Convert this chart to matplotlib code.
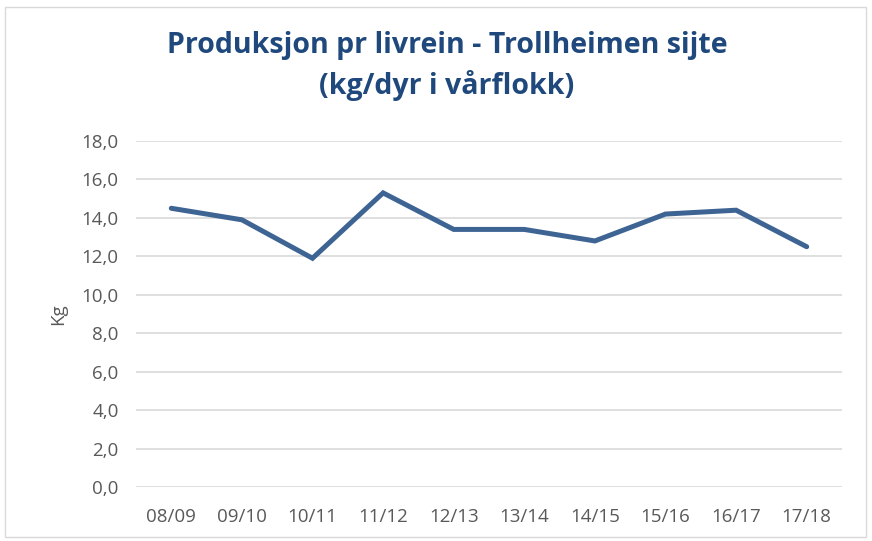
import matplotlib.pyplot as plt
from matplotlib.patches import Rectangle

seasons = ['08/09', '09/10', '10/11', '11/12', '12/13',
           '13/14', '14/15', '15/16', '16/17', '17/18']
kg_per_animal = [14.5, 13.9, 11.9, 15.3, 13.4, 13.4, 12.8, 14.2, 14.4, 12.5]
y_ticks = [0, 2, 4, 6, 8, 10, 12, 14, 16, 18]

plt.rcParams['font.family'] = ['Open Sans', 'DejaVu Sans']

fig = plt.figure(figsize=(8.72, 5.41), dpi=100)
ax = fig.add_axes([136 / 872, 1 - 487 / 541, (842 - 136) / 872, (487 - 141) / 541])

x = range(len(seasons))
ax.plot(x, kg_per_animal, color='#3E6494', linewidth=3.6,
        solid_joinstyle='miter', solid_capstyle='round', zorder=3)

ax.set_xlim(-0.5, len(seasons) - 0.5)
ax.set_ylim(0, 18)
ax.set_yticks(y_ticks)
ax.set_yticklabels([f'{v:.1f}'.replace('.', ',') for v in y_ticks])
ax.set_xticks(list(x))
ax.set_xticklabels(seasons)

ax.grid(axis='y', color='#D9D9D9', linewidth=1.2)
ax.set_axisbelow(True)
for s in ax.spines.values():
    s.set_visible(False)
ax.tick_params(length=0, labelsize=13.5, labelcolor='#595959')
ax.tick_params(axis='y', pad=12.5)
ax.tick_params(axis='x', pad=15)

ax.set_ylabel('Kg', fontsize=13.5, color='#595959')
ax.yaxis.set_label_coords(-0.097, 0.5)

# title sits a little right of the figure centre in the original
title_x = 447 / 872
fig.text(title_x, 1 - 53 / 541, 'Produksjon pr livrein - Trollheimen sijte',
         ha='center', va='baseline', fontsize=20.5, fontweight='bold', color='#1F497D')
fig.text(title_x, 1 - 94 / 541, '(kg/dyr i vårflokk)',
         ha='center', va='baseline', fontsize=20.5, fontweight='bold', color='#1F497D')

fig.patches.append(Rectangle((5 / 872, 4 / 541), 861 / 872, 530 / 541,
                             transform=fig.transFigure, fill=False,
                             edgecolor='#D9D9D9', linewidth=1))

fig.savefig('out.png', dpi=100)
